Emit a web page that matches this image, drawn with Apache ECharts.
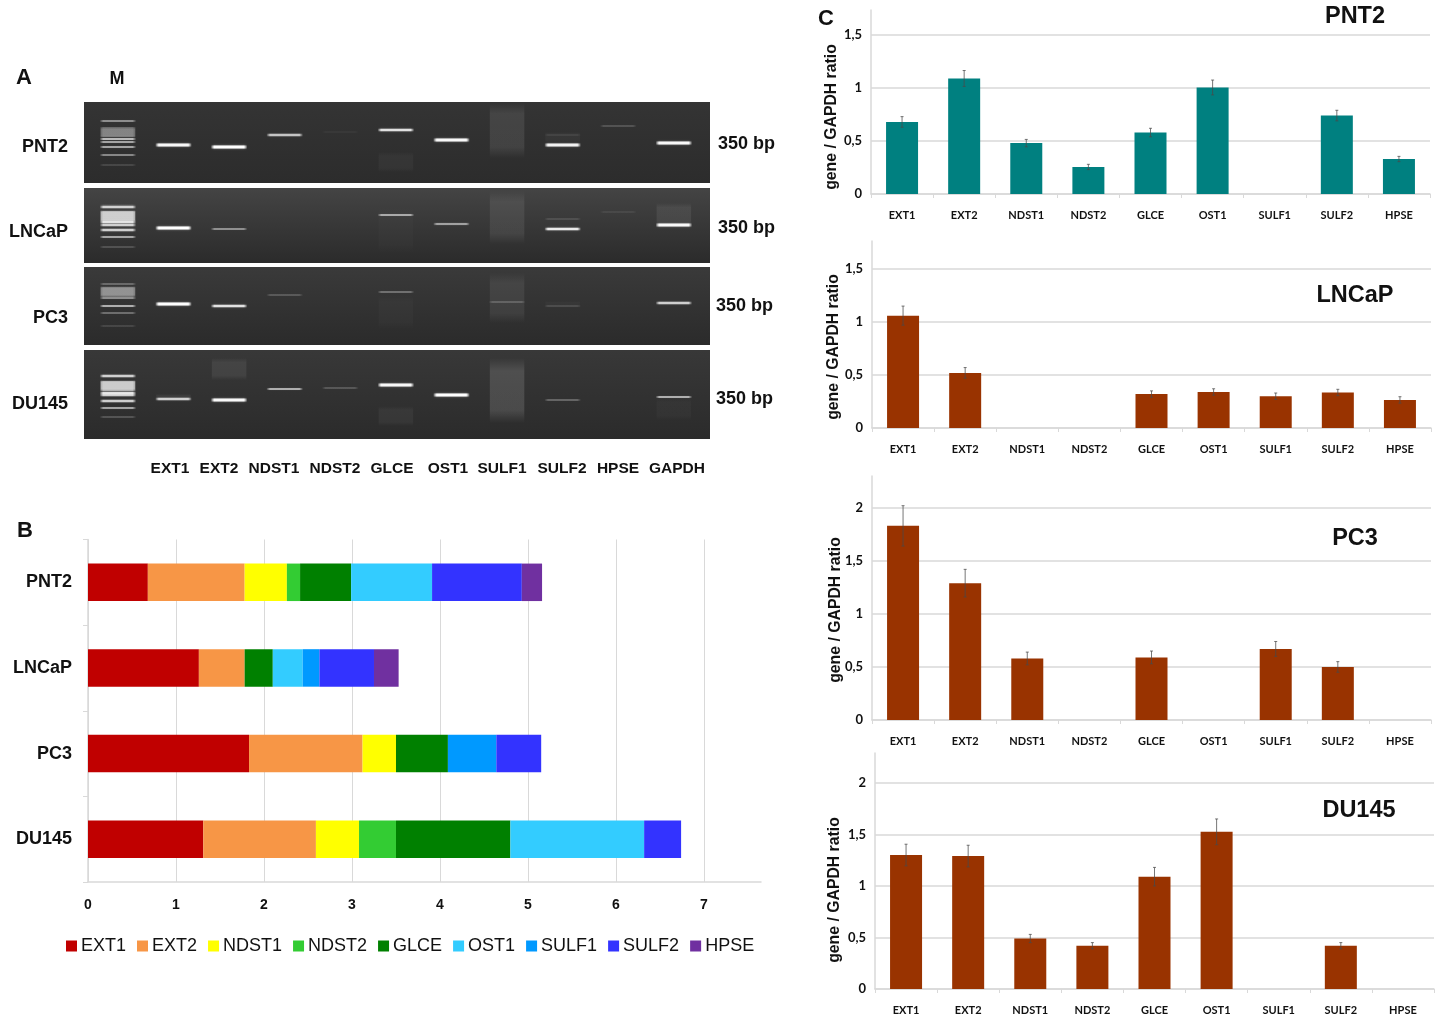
<!DOCTYPE html>
<html>
<head>
<meta charset="utf-8">
<title>HS gene expression</title>
<script src="https://cdn.jsdelivr.net/npm/echarts@6/dist/echarts.min.js"></script>
<style>
html, body { margin: 0; padding: 0; background: #fff; }
#main { width: 1439px; height: 1023px; }
</style>
</head>
<body>
<div id="main"></div>
<script>
// gene names
var genes = ['EXT1', 'EXT2', 'NDST1', 'NDST2', 'GLCE', 'OST1', 'SULF1', 'SULF2', 'HPSE'];
var gelLanes = ['EXT1', 'EXT2', 'NDST1', 'NDST2', 'GLCE', 'OST1', 'SULF1', 'SULF2', 'HPSE', 'GAPDH'];
var cellLines = ['PNT2', 'LNCaP', 'PC3', 'DU145'];
var geneColors = ['#C00000', '#F79646', '#FFFF00', '#33CC33', '#008000', '#33CCFF', '#0099FF', '#3333FF', '#7030A0'];

// panel B, stacked values (same order as genes)
var stackPNT2 = [0.68, 1.10, 0.48, 0.15, 0.58, 0.92, 0, 1.02, 0.23];
var stackLNCaP = [1.26, 0.52, 0, 0, 0.32, 0.34, 0.19, 0.62, 0.28];
var stackPC3 = [1.83, 1.29, 0.38, 0, 0.59, 0, 0.55, 0.51, 0];
var stackDU145 = [1.31, 1.28, 0.49, 0.42, 1.30, 1.52, 0, 0.42, 0];

// panel C, ratio and error
var ratioPNT2 = [0.68, 1.09, 0.48, 0.255, 0.58, 1.005, 0, 0.74, 0.33];
var errorPNT2 = [0.05, 0.075, 0.035, 0.025, 0.04, 0.07, 0, 0.05, 0.025];
var ratioLNCaP = [1.06, 0.52, 0, 0, 0.32, 0.34, 0.30, 0.335, 0.265];
var errorLNCaP = [0.09, 0.05, 0, 0, 0.03, 0.03, 0.03, 0.03, 0.03];
var ratioPC3 = [1.83, 1.29, 0.58, 0, 0.59, 0, 0.67, 0.50, 0];
var errorPC3 = [0.19, 0.13, 0.06, 0, 0.06, 0, 0.07, 0.05, 0];
var ratioDU145 = [1.30, 1.29, 0.49, 0.42, 1.09, 1.525, 0, 0.42, 0];
var errorDU145 = [0.105, 0.105, 0.04, 0.03, 0.09, 0.125, 0, 0.03, 0];

// panel A, gel bands: [lane, migration, intensity], lane 0 is the marker
var bandsPNT2 = [[0,19,.4],[0,26,.28],[0,28,.28],[0,30,.28],[0,32,.28],[0,34,.3],[0,37,.6],[0,40,.5],[0,45,.5],[0,53,.38],[0,63,.15],
  [1,43,.95],[2,45,1],[3,33,.65],[4,30,.07],[5,28,.8],[6,38,.95],[8,43,.9],[8,33,.12],[9,24,.2],[10,41,.95]];
var bandsLNCaP = [[0,17,.1],[0,19,.7],[0,24,.45],[0,26,.45],[0,28,.45],[0,30,.45],[0,32,.45],[0,34,.8],[0,37,.7],[0,42,.7],[0,49,.5],[0,59,.2],
  [1,40,1],[2,41,.4],[5,27,.5],[6,36,.45],[8,41,.85],[8,31,.14],[9,24,.12],[10,37,.95]];
var bandsPC3 = [[0,17,.3],[0,21,.28],[0,23,.28],[0,25,.28],[0,27,.28],[0,29,.3],[0,31,.4],[0,39,.55],[0,46,.35],[0,59,.14],
  [1,37,1],[2,39,.8],[3,28,.22],[5,25,.35],[7,35,.22],[8,39,.14],[10,36,.7]];
var bandsDU145 = [[0,26,.7],[0,32,.45],[0,34,.45],[0,36,.45],[0,38,.45],[0,40,.5],[0,43,.8],[0,45,.7],[0,51,.7],[0,58,.5],[0,67,.22],
  [1,49,.7],[2,50,.95],[3,39,.55],[4,38,.22],[5,35,.95],[6,45,1],[8,50,.3],[10,47,.55]];

// panel A, smears: [lane, from, to, intensity]
var smearsPNT2 = [[0,25,36,.22],[7,1,56,.09],[5,50,70,.035],[8,30,40,.03]];
var smearsLNCaP = [[0,22,34,.5],[7,3,56,.08],[5,20,65,.015],[10,15,37,.07],[6,34,38,.06]];
var smearsPC3 = [[0,19,30,.3],[7,6,56,.07],[5,28,62,.02],[8,34,41,.02]];
var smearsDU145 = [[0,30,41,.5],[7,8,73,.13],[2,8,30,.07],[5,56,76,.045],[1,44,50,.05],[10,48,70,.025]];

var gelHeights = [81, 75, 78, 89];

function fmtComma(v) { return String(v).replace('.', ','); }

var gelBandItem = function (params, api) {
  var p = api.coord([api.value(0), api.value(1)]);
  var amt = api.value(2);
  var w = api.size([0.66, 0])[0];
  var h = 1 + amt * 2;
  var edge = 'rgba(255,255,255,0)';
  var core = 'rgba(255,255,255,' + amt + ')';
  return {
    type: 'rect',
    shape: { x: p[0] - w / 2, y: p[1] - h / 2, width: w, height: h },
    style: {
      fill: new echarts.graphic.LinearGradient(0, 0, 1, 0, [
        { offset: 0, color: edge }, { offset: 0.1, color: core },
        { offset: 0.9, color: core }, { offset: 1, color: edge }
      ]),
      shadowBlur: 2 * amt,
      shadowColor: 'rgba(255,255,255,' + amt * 0.5 + ')'
    }
  };
};

var gelSmearItem = function (params, api) {
  var a = api.coord([api.value(0), api.value(1)]);
  var b = api.coord([api.value(0), api.value(2)]);
  var amt = api.value(3);
  var w = api.size([0.62, 0])[0];
  var edge = 'rgba(255,255,255,0)';
  var core = 'rgba(255,255,255,' + amt + ')';
  return {
    type: 'rect',
    shape: { x: a[0] - w / 2, y: a[1], width: w, height: b[1] - a[1] },
    style: {
      fill: new echarts.graphic.LinearGradient(0, 0, 0, 1, [
        { offset: 0, color: edge }, { offset: 0.2, color: core },
        { offset: 0.8, color: core }, { offset: 1, color: edge }
      ])
    }
  };
};

var errorItem = function (params, api) {
  var x = api.value(0);
  var lo = api.coord([x, api.value(1)]);
  var hi = api.coord([x, api.value(2)]);
  var st = { stroke: '#4a4a4a', lineWidth: 1, opacity: 0.75 };
  return {
    type: 'group',
    children: [
      { type: 'line', shape: { x1: lo[0], y1: lo[1], x2: hi[0], y2: hi[1] }, style: st },
      { type: 'line', shape: { x1: lo[0] - 1.5, y1: lo[1], x2: lo[0] + 1.5, y2: lo[1] }, style: st },
      { type: 'line', shape: { x1: hi[0] - 1.5, y1: hi[1], x2: hi[0] + 1.5, y2: hi[1] }, style: st }
    ]
  };
};

var grids = [], xAxes = [], yAxes = [], series = [];

// panel A
var gelTops = [102, 188, 267, 350];
var gelShades = [['#343434', '#2c2c2c'], ['#444444', '#2b2b2b'], ['#3a3a3a', '#2b2b2b'], ['#383838', '#2b2b2b']];
[bandsPNT2, bandsLNCaP, bandsPC3, bandsDU145].forEach(function (bands, i) {
  var idx = grids.length;
  grids.push({
    left: 84, width: 626, top: gelTops[i], height: gelHeights[i],
    show: true, borderWidth: 0,
    backgroundColor: new echarts.graphic.LinearGradient(0, 0, 0, 1, [
      { offset: 0, color: gelShades[i][0] }, { offset: 1, color: gelShades[i][1] }
    ])
  });
  xAxes.push({ gridIndex: idx, type: 'value', min: -0.61, max: 10.65, show: false });
  yAxes.push({ gridIndex: idx, type: 'value', min: 0, max: gelHeights[i], inverse: true, show: false });
  series.push({
    type: 'custom', xAxisIndex: idx, yAxisIndex: idx, renderItem: gelSmearItem,
    encode: { x: 0, y: 1 }, silent: true,
    data: [smearsPNT2, smearsLNCaP, smearsPC3, smearsDU145][i]
  });
  series.push({
    type: 'custom', xAxisIndex: idx, yAxisIndex: idx, renderItem: gelBandItem,
    encode: { x: 0, y: 1 }, silent: true, data: bands
  });
});

// panel B
var stackIdx = grids.length;
grids.push({ left: 88, top: 539.5, width: 673, height: 342.5 });
xAxes.push({
  gridIndex: stackIdx, type: 'value', min: 0, max: 7.648, interval: 1,
  axisLine: { show: true, lineStyle: { color: '#d9d9d9', width: 1.5 } },
  axisTick: { show: false },
  splitLine: { show: true, showMaxLine: false, lineStyle: { color: '#d9d9d9', width: 1 } },
  axisLabel: {
    showMaxLabel: false, margin: 16, color: '#111',
    fontFamily: 'Liberation Sans', fontWeight: 'bold', fontSize: 14
  }
});
yAxes.push({
  gridIndex: stackIdx, type: 'category', inverse: true, data: cellLines,
  axisLine: { show: true, lineStyle: { color: '#d9d9d9', width: 1.5 } },
  axisTick: { show: true, length: 5, lineStyle: { color: '#d9d9d9' } },
  axisLabel: {
    margin: 16, color: '#111',
    fontFamily: 'Liberation Sans', fontWeight: 'bold', fontSize: 18
  }
});
var stackRows = [stackPNT2, stackLNCaP, stackPC3, stackDU145];
genes.forEach(function (g, i) {
  series.push({
    type: 'bar', name: g, stack: 'total', xAxisIndex: stackIdx, yAxisIndex: stackIdx,
    barWidth: 37.5, itemStyle: { color: geneColors[i] },
    data: stackRows.map(function (r) { return r[i]; })
  });
});

// panel C
var ratioPanels = [
  { ratio: ratioPNT2, error: errorPNT2, left: 871, right: 1430, top: 10, bottom: 194, max: 1.736, color: '#008080' },
  { ratio: ratioLNCaP, error: errorLNCaP, left: 872, right: 1431, top: 241, bottom: 428, max: 1.764, color: '#993300' },
  { ratio: ratioPC3, error: errorPC3, left: 872, right: 1431, top: 476, bottom: 720, max: 2.3, color: '#993300' },
  { ratio: ratioDU145, error: errorDU145, left: 875, right: 1434, top: 753, bottom: 989, max: 2.29, color: '#993300' }
];
ratioPanels.forEach(function (p) {
  var idx = grids.length;
  grids.push({ left: p.left, width: p.right - p.left, top: p.top, height: p.bottom - p.top });
  xAxes.push({
    gridIndex: idx, type: 'category', data: genes,
    axisLine: { show: true, lineStyle: { color: '#d9d9d9', width: 1.5 } },
    axisTick: { show: true, length: 4, lineStyle: { color: '#d9d9d9' } },
    axisLabel: { margin: 16, color: '#111', fontFamily: 'Lato', fontWeight: 'bold', fontSize: 11, interval: 0 }
  });
  yAxes.push({
    gridIndex: idx, type: 'value', min: 0, max: p.max, interval: 0.5,
    axisLine: { show: true, lineStyle: { color: '#d9d9d9', width: 1.5 } },
    axisTick: { show: false },
    splitLine: { show: true, showMaxLine: false, lineStyle: { color: '#d9d9d9', width: 1.5 } },
    axisLabel: {
      showMaxLabel: false, margin: 9, color: '#111', fontFamily: 'Lato', fontWeight: 'bold', fontSize: 13,
      formatter: fmtComma
    }
  });
  series.push({
    type: 'bar', xAxisIndex: idx, yAxisIndex: idx, barWidth: 32,
    itemStyle: { color: p.color }, data: p.ratio
  });
  var errs = [];
  p.ratio.forEach(function (v, k) {
    if (p.error[k] > 0) errs.push([k, v - p.error[k], v + p.error[k]]);
  });
  series.push({
    type: 'custom', xAxisIndex: idx, yAxisIndex: idx, renderItem: errorItem,
    encode: { x: 0, y: [1, 2] }, z: 5, silent: true, data: errs
  });
});

// text that does not belong to an axis
var boldFont = 'bold 18px "Liberation Sans"';
function label(text, x, y, font, align, rotation) {
  return {
    type: 'text', x: x, y: y, rotation: rotation || 0, silent: true,
    style: { text: text, font: font || boldFont, fill: '#111', align: align || 'center', verticalAlign: 'middle' }
  };
}
var texts = [
  label('A', 24, 78, 'bold 22px "Liberation Sans"'),
  label('M', 117, 79),
  label('B', 25, 531, 'bold 22px "Liberation Sans"'),
  label('C', 826, 19, 'bold 22px "Liberation Sans"')
];
var gelLabelY = [147, 232.5, 318, 404];
var bpX = [718, 718, 716, 716], bpY = [144, 228, 306, 399];
cellLines.forEach(function (c, i) {
  texts.push(label(c, 68, gelLabelY[i], boldFont, 'right'));
  texts.push(label('350 bp', bpX[i], bpY[i], boldFont, 'left'));
});
var laneLabelX = [170, 219, 274, 335, 392, 448, 502, 562, 618, 677];
gelLanes.forEach(function (g, i) {
  texts.push(label(g, laneLabelX[i], 469, 'bold 15.5px "Liberation Sans"'));
});
var headX = [1355, 1355, 1355, 1359], headY = [16.5, 295.5, 538.5, 810.5];
var nameX = [832, 834, 836, 835], nameY = [117, 347, 610, 890];
cellLines.forEach(function (c, i) {
  texts.push(label(c, headX[i], headY[i], 'bold 23.5px "Liberation Sans"'));
  texts.push(label('gene / GAPDH ratio', nameX[i], nameY[i], 'bold 15.8px "Liberation Sans"', 'center', Math.PI / 2));
});

var chart = echarts.init(document.getElementById('main'));
chart.setOption({
  animation: false,
  backgroundColor: '#fff',
  grid: grids,
  xAxis: xAxes,
  yAxis: yAxes,
  legend: {
    left: 66, top: 937, padding: 0, itemWidth: 11, itemHeight: 11, itemGap: 11,
    data: genes,
    icon: 'rect',
    textStyle: { color: '#111', fontFamily: 'Liberation Sans', fontSize: 18, padding: [0, 0, 0, -1] }
  },
  series: series,
  graphic: { elements: texts }
});
</script>
</body>
</html>
